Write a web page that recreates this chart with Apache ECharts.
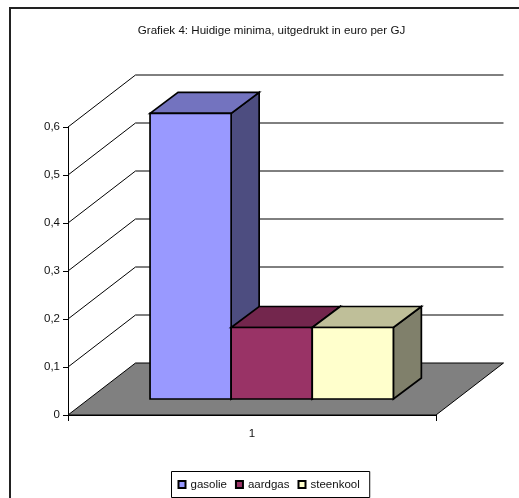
<!DOCTYPE html>
<html>
<head>
<meta charset="utf-8">
<style>html,body{margin:0;padding:0;background:#fff}#c{width:519px;height:498px}</style>
<script src="https://cdn.jsdelivr.net/npm/echarts@6/dist/echarts.min.js"></script>
</head>
<body>
<div id="c"></div>
<script>
// Fuel price minima, euro per GJ
const categories = ['1'];
const fuelNames = ['gasolie', 'aardgas', 'steenkool'];
const fuelValues = [0.595, 0.149, 0.149];
const frontColors = ['#9999ff', '#993366', '#ffffcc'];
const topColors = ['#7373bf', '#73264d', '#bfbf99'];
const sideColors = ['#4d4d80', '#4d1933', '#80806b'];
const tickValues = [0, 0.1, 0.2, 0.3, 0.4, 0.5, 0.6];

// Oblique projection of the chart's depth, in pixels
const wallDx = 67.5, wallDy = -52;
const barShiftDx = 21, barShiftDy = -16;
const boxDx = 28, boxDy = -21;
const barWidthShare = 0.2204;

const chart = echarts.init(document.getElementById('c'), null, { renderer: 'canvas' });

function pts(list) { return { points: list }; }

// Back wall lines and the grey floor
function renderWall(params, api) {
  const value = api.value(0);
  const a = api.coord([0, value]);
  const half = api.size([1, 0])[0] / 2;
  const l = a[0] - half;
  const r = a[0] + half;
  const y = a[1];
  if (value === 0) {
    return {
      type: 'polygon',
      shape: pts([[l, y], [l + wallDx, y + wallDy], [r + wallDx, y + wallDy], [r, y]]),
      style: { fill: '#808080', stroke: '#000', lineWidth: 1 }
    };
  }
  return {
    type: 'polyline',
    shape: pts([[l, y], [l + wallDx, y + wallDy], [r + wallDx, y + wallDy]]),
    style: { fill: 'none', stroke: '#000', lineWidth: 1 }
  };
}

// One cuboid: front face, top face and side face
function renderBox(index) {
  return function (params, api) {
    const base = api.coord([0, 0]);
    const top = api.coord([0, api.value(1)]);
    const band = api.size([1, 0])[0];
    const w = band * barWidthShare;
    const x0 = base[0] - w * 1.5 + w * index + barShiftDx - 1.3;
    const x1 = x0 + w;
    const y0 = base[1] + barShiftDy;
    const y1 = top[1] + barShiftDy;
    const edge = { stroke: '#000', lineWidth: 1.7, lineJoin: 'miter' };
    return {
      type: 'group',
      children: [
        { type: 'polygon', shape: pts([[x1, y1], [x1 + boxDx, y1 + boxDy], [x1 + boxDx, y0 + boxDy], [x1, y0]]),
          style: Object.assign({ fill: sideColors[index] }, edge) },
        { type: 'polygon', shape: pts([[x0, y1], [x0 + boxDx, y1 + boxDy], [x1 + boxDx, y1 + boxDy], [x1, y1]]),
          style: Object.assign({ fill: topColors[index] }, edge) },
        { type: 'rect', shape: { x: x0, y: y1, width: w, height: y0 - y1 },
          style: Object.assign({ fill: frontColors[index] }, edge) }
      ]
    };
  };
}

const textFont = 'Liberation Sans, Arial, sans-serif';

const series = [{
  type: 'custom',
  name: 'wand',
  silent: true,
  z: 1,
  clip: false,
  animation: false,
  data: tickValues.map(v => [v]),
  encode: { y: 0 },
  coordinateSystem: 'cartesian2d',
  renderItem: renderWall
}];
fuelNames.forEach((name, i) => {
  series.push({
    type: 'custom',
    name,
    z: 2 + i,
    clip: false,
    animation: false,
    coordinateSystem: 'cartesian2d',
    itemStyle: { color: frontColors[i], borderColor: '#000', borderWidth: 1.7 },
    data: [[categories[0], fuelValues[i]]],
    encode: { x: 0, y: 1 },
    renderItem: renderBox(i)
  });
});

chart.setOption({
  animation: false,
  backgroundColor: '#fff',
  title: {
    text: 'Grafiek 4: Huidige minima, uitgedrukt in euro per GJ',
    left: 271.5, top: 25, textAlign: 'center', padding: 0,
    textStyle: { fontFamily: textFont, fontSize: 11.6, fontWeight: 'normal', color: '#111' }
  },
  grid: { left: 68, right: 83, top: 127, bottom: 83, containLabel: false },
  xAxis: {
    type: 'category',
    data: categories,
    axisLine: { lineStyle: { color: '#000', width: 1 } },
    axisTick: { show: true, length: 6, lineStyle: { color: '#000' } },
    axisLabel: { fontFamily: textFont, fontSize: 11.5, color: '#111', margin: 13 },
    splitLine: { show: false }
  },
  yAxis: {
    type: 'value',
    min: 0, max: 0.6, interval: 0.1,
    axisLine: { show: true, lineStyle: { color: '#000', width: 1 } },
    axisTick: { show: true, length: 5, lineStyle: { color: '#000' } },
    axisLabel: { fontFamily: textFont, fontSize: 11.5, color: '#111', margin: 8,
      formatter: v => String(Math.round(v * 10) / 10).replace('.', ',') },
    splitLine: { show: false }
  },
  legend: {
    data: fuelNames,
    left: 171.5, top: 471.5,
    padding: [7, 10, 7, 6],
    itemGap: 8,
    itemWidth: 7, itemHeight: 7,
    icon: 'rect',
    borderColor: '#000', borderWidth: 1,
    textStyle: { fontFamily: textFont, fontSize: 11.5, color: '#111' }
  },
  graphic: [
    { type: 'polyline', shape: { points: [[10, 498], [10, 8], [519, 8]] }, style: { fill: 'none', stroke: '#222', lineWidth: 2 } }
  ],
  series
});
</script>
</body>
</html>
